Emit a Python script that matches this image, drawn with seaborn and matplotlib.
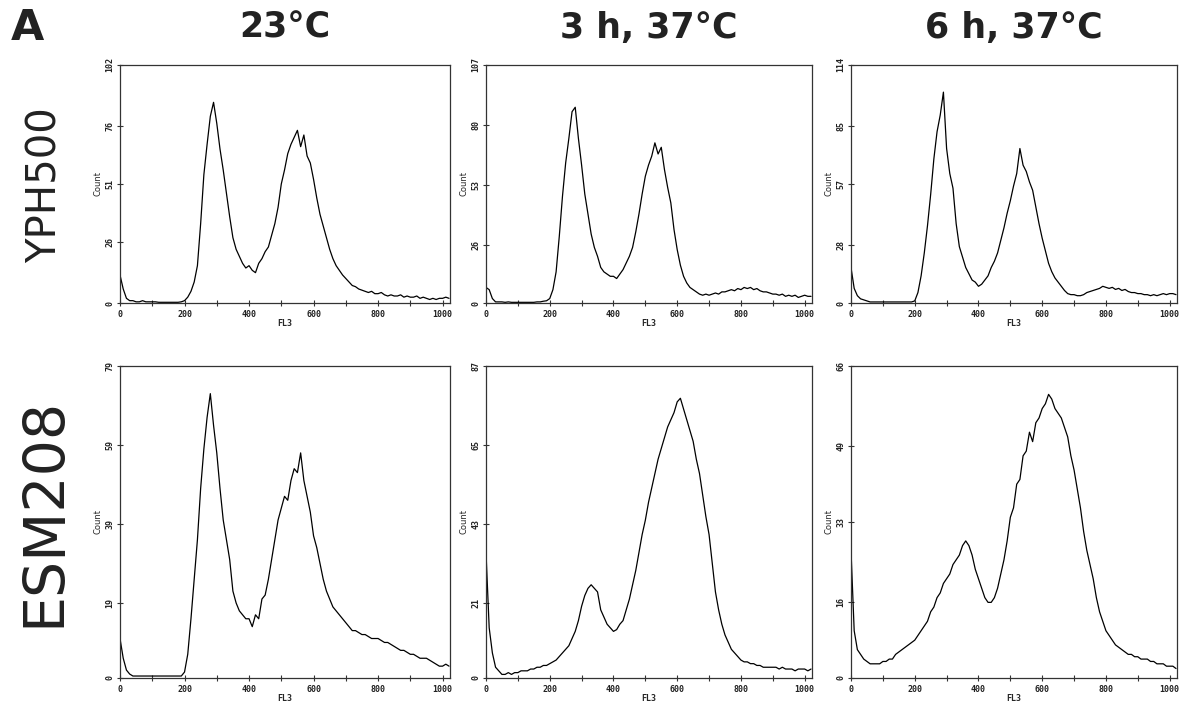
#!/usr/bin/env python3
# Flow cytometry DNA content histograms, YPH500 vs ESM208

import matplotlib
matplotlib.use("Agg")
import matplotlib.pyplot as plt
import seaborn as sns
import pandas as pd

sns.set_style("white")
plt.rcParams['font.family'] = ['DejaVu Sans']

################
# Data (one value every 10 channels)

fl3_channel = [0, 10, 20, 30, 40, 50, 60, 70, 80, 90,
               100, 110, 120, 130, 140, 150, 160, 170, 180, 190,
               200, 210, 220, 230, 240, 250, 260, 270, 280, 290,
               300, 310, 320, 330, 340, 350, 360, 370, 380, 390,
               400, 410, 420, 430, 440, 450, 460, 470, 480, 490,
               500, 510, 520, 530, 540, 550, 560, 570, 580, 590,
               600, 610, 620, 630, 640, 650, 660, 670, 680, 690,
               700, 710, 720, 730, 740, 750, 760, 770, 780, 790,
               800, 810, 820, 830, 840, 850, 860, 870, 880, 890,
               900, 910, 920, 930, 940, 950, 960, 970, 980, 990,
               1000, 1010, 1020]

yph500_23c = [12, 6, 2, 1, 1, 0.5, 0.5, 1, 0.5, 0.5,
              0.5, 0.5, 0.3, 0.3, 0.3, 0.3, 0.3, 0.3, 0.3, 0.5,
              1, 2.5, 5, 9, 16, 34, 55, 68, 80, 86,
              77, 66, 57, 47, 37, 28, 23, 20, 17, 15,
              16, 14, 13, 17, 19, 22, 24, 29, 34, 41,
              51, 57, 64, 68, 71, 74, 67, 72, 63, 60,
              53, 45, 38, 33, 28, 23, 19, 16, 14, 12,
              10.5, 9, 7.5, 7, 6, 5.5, 5, 4.5, 5, 4,
              4, 4.5, 3.5, 3, 3.5, 3, 3, 3.5, 2.5, 3,
              2.5, 2.5, 3, 2, 2.5, 2, 1.5, 2, 1.5, 2,
              2, 2.5, 2]

yph500_3h = [7, 6, 2, 0.5, 0.5, 0.5, 0.3, 0.5, 0.3, 0.3,
             0.3, 0.3, 0.3, 0.3, 0.3, 0.3, 0.5, 0.5, 0.8, 1,
             2, 6, 14, 30, 48, 63, 74, 86, 88, 74,
             62, 49, 40, 31, 25, 21, 16, 14, 13, 12,
             12, 11, 13, 15, 18, 21, 25, 32, 40, 49,
             57, 62, 66, 72, 67, 70, 60, 52, 45, 33,
             24, 17, 12, 9, 7, 6, 5, 4, 3.5, 4,
             3.5, 4, 4.5, 4, 5, 5, 5.5, 6, 5.5, 6.5,
             6, 7, 6.5, 7, 6, 6.5, 5.5, 5, 5, 4.5,
             4, 4, 3.5, 4, 3, 3.5, 3, 3.5, 2.5, 3,
             3.5, 3, 3]

yph500_6h = [17, 7, 3.5, 2, 1.5, 1, 0.5, 0.5, 0.5, 0.5,
             0.5, 0.5, 0.5, 0.5, 0.5, 0.5, 0.5, 0.5, 0.5, 0.5,
             1, 5, 13, 24, 37, 52, 69, 82, 90, 101,
             74, 62, 55, 38, 27, 22, 17, 14, 11, 10,
             8, 9, 11, 13, 17, 20, 24, 30, 36, 43,
             49, 56, 62, 74, 66, 63, 58, 54, 46, 38,
             31, 25, 19, 15, 12, 10, 8, 6, 4.5, 4,
             4, 3.5, 3.5, 4, 5, 5.5, 6, 6.5, 7, 8,
             7.5, 7, 7.5, 6.5, 7, 6, 6.5, 5.5, 5, 5,
             4.5, 4.5, 4, 4, 3.5, 4, 3.5, 4, 4.5, 4,
             4.5, 4.5, 4]

esm208_23c = [10, 5, 2, 1, 0.5, 0.5, 0.5, 0.5, 0.5, 0.5,
              0.5, 0.5, 0.5, 0.5, 0.5, 0.5, 0.5, 0.5, 0.5, 0.5,
              1.5, 6, 15, 25, 35, 48, 58, 66, 72, 64,
              57, 48, 40, 35, 30, 22, 19, 17, 16, 15,
              15, 13, 16, 15, 20, 21, 25, 30, 35, 40,
              43, 46, 45, 50, 53, 52, 57, 50, 46, 42,
              36, 33, 29, 25, 22, 20, 18, 17, 16, 15,
              14, 13, 12, 12, 11.5, 11, 11, 10.5, 10, 10,
              10, 9.5, 9, 9, 8.5, 8, 7.5, 7, 7, 6.5,
              6, 6, 5.5, 5, 5, 5, 4.5, 4, 3.5, 3,
              3, 3.5, 3]

esm208_3h = [35, 14, 7, 3, 2, 1, 1, 1.5, 1, 1.5,
             1.5, 2, 2, 2, 2.5, 2.5, 3, 3, 3.5, 3.5,
             4, 4.5, 5, 6, 7, 8, 9, 11, 13, 16,
             20, 23, 25, 26, 25, 24, 19, 17, 15, 14,
             13, 13.5, 15, 16, 19, 22, 26, 30, 35, 40,
             44, 49, 53, 57, 61, 64, 67, 70, 72, 74,
             77, 78, 75, 72, 69, 66, 61, 57, 51, 45,
             40, 32, 24, 19, 15, 12, 10, 8, 7, 6,
             5, 4.5, 4.5, 4, 4, 3.5, 3.5, 3, 3, 3,
             3, 3, 2.5, 3, 2.5, 2.5, 2.5, 2, 2.5, 2.5,
             2.5, 2, 2.5]

esm208_6h = [27, 10, 6, 5, 4, 3.5, 3, 3, 3, 3,
             3.5, 3.5, 4, 4, 5, 5.5, 6, 6.5, 7, 7.5,
             8, 9, 10, 11, 12, 14, 15, 17, 18, 20,
             21, 22, 24, 25, 26, 28, 29, 28, 26, 23,
             21, 19, 17, 16, 16, 17, 19, 22, 25, 29,
             34, 36, 41, 42, 47, 48, 52, 50, 54, 55,
             57, 58, 60, 59, 57, 56, 55, 53, 51, 47,
             44, 40, 36, 31, 27, 24, 21, 17, 14, 12,
             10, 9, 8, 7, 6.5, 6, 5.5, 5, 5, 4.5,
             4.5, 4, 4, 4, 3.5, 3.5, 3, 3, 3, 2.5,
             2.5, 2.5, 2]

conditions = ["23°C", "3 h, 37°C", "6 h, 37°C"]
strains = ["YPH500", "ESM208"]
histograms = [[yph500_23c, yph500_3h, yph500_6h],
              [esm208_23c, esm208_3h, esm208_6h]]
yticks = [[[0, 26, 51, 76, 102], [0, 26, 53, 80, 107], [0, 28, 57, 85, 114]],
          [[0, 19, 39, 59, 79], [0, 21, 43, 65, 87], [0, 16, 33, 49, 66]]]

##########
# Layout (pixel boxes of each panel in the 1182x710 figure)

W, H = 1182, 710
panel_x = [[120, 450], [486, 812], [851, 1177]]
row_y = [[65, 303], [366, 678]]

tickfont = dict(family='DejaVu Sans Mono', weight='bold', size=6, color='#222222')

fig = plt.figure(figsize=(W / 100, H / 100), dpi=100)

for r in range(2):
  for c in range(3):
    x0, x1 = panel_x[c]
    yt, yb = row_y[r]
    ax = fig.add_axes([x0 / W, 1 - yb / H, (x1 - x0) / W, (yb - yt) / H])
    df = pd.DataFrame({'FL3': fl3_channel, 'Count': histograms[r][c]})
    sns.lineplot(data=df, x='FL3', y='Count', ax=ax, color='black', lw=0.9)

    ax.set_xlim(0, 1023)
    ax.set_ylim(0, yticks[r][c][-1])
    ax.set_xticks([0, 200, 400, 600, 800, 1000])
    ax.set_xticks([100, 300, 500, 700, 900], minor=True)
    ax.set_xticklabels(['0', '200', '400', '600', '800', '1000'], **tickfont)
    ax.set_yticks(yticks[r][c])
    ax.set_yticklabels([str(v) for v in yticks[r][c]], rotation=90, va='center', **tickfont)
    ax.tick_params(which='both', direction='inout', length=4, width=0.8, color='#333333',
                   bottom=True, left=True, pad=3)
    ax.tick_params(axis='y', pad=2)
    ax.set_xlabel('FL3', fontsize=6, fontweight='bold', family='DejaVu Sans Mono', labelpad=0)
    ax.set_ylabel('Count', fontsize=6, labelpad=2)
    for sp in ax.spines.values():
      sp.set_color('#333333')
      sp.set_linewidth(0.9)

# column titles
for c in range(3):
  xc = (panel_x[c][0] + panel_x[c][1]) / 2
  fig.text(xc / W, 1 - 28 / H, conditions[c], ha='center', va='center',
           fontsize=25, fontweight='bold', color='#222222')

# row labels
fig.text(46 / W, 1 - 185 / H, strains[0], rotation=90, ha='center', va='center',
         fontsize=29, color='#222222')
fig.text(45 / W, 1 - 512 / H, strains[1], rotation=90, ha='center', va='center',
         fontsize=41, color='#222222')

# panel letter
fig.text(27 / W, 1 - 28 / H, 'A', ha='center', va='center', fontsize=31,
         fontweight='bold', color='#222222')

fig.savefig('out.png', dpi=100, facecolor='white')
